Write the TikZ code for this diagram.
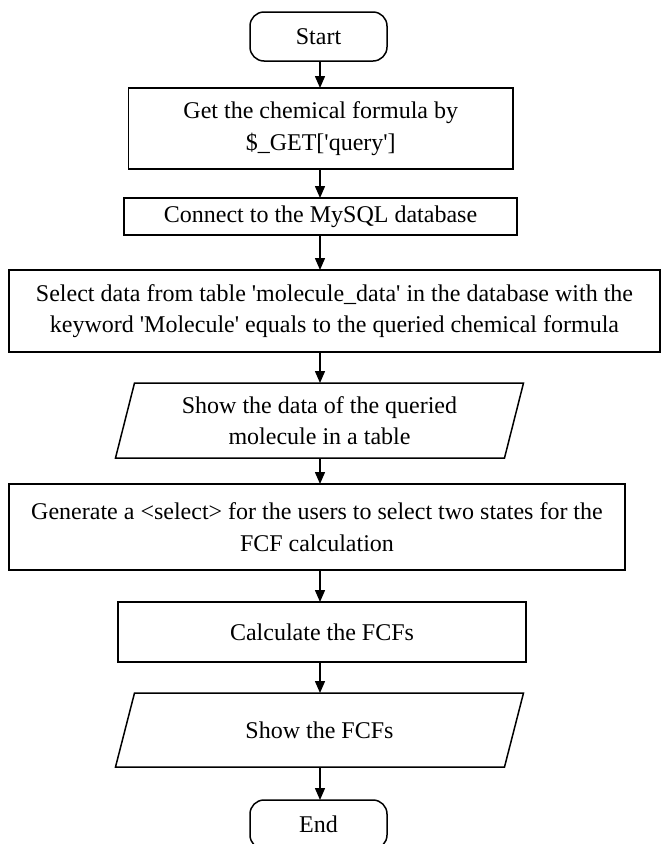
\documentclass[tikz,border=0pt]{standalone}
\usepackage{fontspec}
\setmainfont{Liberation Serif}[Ligatures=TeXOff]
\usetikzlibrary{arrows.meta,calc}

\tikzset{
  base/.style={outer sep=0pt, inner sep=0pt, align=center,
    font=\fontsize{24}{31.5}\selectfont},
  terminal/.style={base, draw, line width=1.5pt, rounded corners=14pt},
  process/.style={base, draw, line width=1.5pt},
  iobox/.style={base},
  flow/.style={line width=1.5pt, -{Triangle[length=12pt,width=10pt]}},
  slanted/.style={draw, line width=1.5pt, line join=miter}
}

\begin{document}
\begin{tikzpicture}[x=1pt,y=-1pt]
\useasboundingbox (0,0) rectangle (662,844);
\clip (0,0) rectangle (662,844);

% vertical spine for the connectors
\coordinate (spine) at (320,0);

\node[terminal, minimum width=137pt, minimum height=49pt] (start) at (318.5,36.5) {Start};
\node[process, minimum width=384.5pt, minimum height=81pt] (get) at (320.75,128.5)
  {Get the chemical formula by\\ \$\_GET['query']};
\node[process, minimum width=393pt, minimum height=37pt] (conn) at (320.5,216.5)
  {Connect to the MySQL database};
\node[process, minimum width=651pt, minimum height=82pt] (sel) at (334.5,311)
  {Select data from table 'molecule\_data' in the database with the\\
   keyword 'Molecule' equals to the queried chemical formula};
\node[iobox, minimum width=389pt, minimum height=75pt] (show) at (319.5,420.5)
  {Show the data of the queried\\ molecule in a table};
\node[process, minimum width=616pt, minimum height=86pt] (gen) at (317,527)
  {Generate a <select> for the users to select two states for the\\ FCF calculation};
\node[process, minimum width=408pt, minimum height=60pt] (calc) at (322,632)
  {Calculate the FCFs};
\node[iobox, minimum width=389pt, minimum height=74pt] (fcf) at (319.5,730)
  {Show the FCFs};
\node[terminal, minimum width=137pt, minimum height=49pt] (end) at (318.5,824.5) {End};

% parallelogram outlines for the output steps
\foreach \p in {show,fcf}{
  \draw[slanted] ([xshift=9.5pt]\p.north west) -- ([xshift=9.5pt]\p.north east)
    -- ([xshift=-9.5pt]\p.south east) -- ([xshift=-9.5pt]\p.south west) -- cycle;
}

% connectors
\draw[flow] (start.south -| spine) -- (get.north -| spine);
\draw[flow] (get.south -| spine) -- (conn.north -| spine);
\draw[flow] (conn.south -| spine) -- (sel.north -| spine);
\draw[flow] (sel.south -| spine) -- (show.north -| spine);
\draw[flow] (show.south -| spine) -- (gen.north -| spine);
\draw[flow] (gen.south -| spine) -- (calc.north -| spine);
\draw[flow] (calc.south -| spine) -- (fcf.north -| spine);
\draw[flow] (fcf.south -| spine) -- (end.north -| spine);
\end{tikzpicture}
\end{document}
